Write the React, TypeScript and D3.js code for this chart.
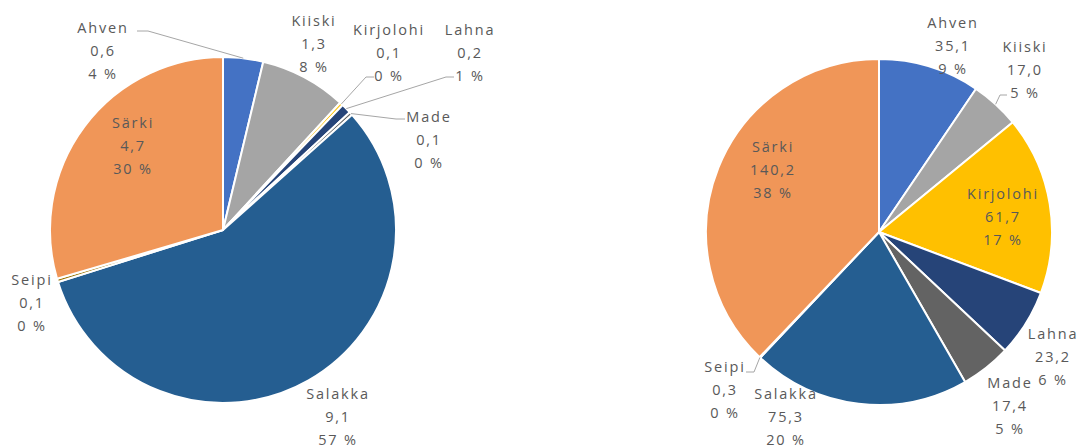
import * as d3 from "d3";

// slice order, clockwise from 12 o'clock
const species = ["Ahven", "Kiiski", "Kirjolohi", "Lahna", "Made", "Salakka", "Seipi", "Särki"];

// left pie (tiny slices are below the 0,1 shown in the rounded labels)
const leftValues = [0.6, 1.3, 0.05, 0.15, 0.05, 9.1, 0.05, 4.74];
const leftValueLabels = ["0,6", "1,3", "0,1", "0,2", "0,1", "9,1", "0,1", "4,7"];
const leftPctLabels = ["4 %", "8 %", "0 %", "1 %", "0 %", "57 %", "0 %", "30 %"];

// right pie
const rightValues = [35.1, 17.0, 61.7, 23.2, 17.4, 75.3, 0.3, 140.2];
const rightValueLabels = ["35,1", "17,0", "61,7", "23,2", "17,4", "75,3", "0,3", "140,2"];
const rightPctLabels = ["9 %", "5 %", "17 %", "6 %", "5 %", "20 %", "0 %", "38 %"];

const COLORS: Record<string, string> = {
  Ahven: "#4472C4",
  Kiiski: "#A5A5A5",
  Kirjolohi: "#FFC000",
  Lahna: "#264478",
  Made: "#636363",
  Salakka: "#255E91",
  Seipi: "#997300",
  Särki: "#F09658",
};

const W = 1083;
const H = 448;
const R = 173;
const LINE = 23;

// label placement: first line centre; leader = label-side anchor + elbow
type LabelPos = { x: number; y: number; leader?: [number, number][] };

const leftLayout: Record<string, LabelPos> = {
  Ahven: { x: 103, y: 27, leader: [[137, 31], [148, 31]] },
  Kiiski: { x: 314, y: 20 },
  Kirjolohi: { x: 389, y: 29, leader: [[374, 77], [366, 77]] },
  Lahna: { x: 470, y: 29, leader: [[454, 77], [446, 77]] },
  Made: { x: 429, y: 116, leader: [[405, 119], [396, 119]] },
  Salakka: { x: 338, y: 393 },
  Seipi: { x: 32, y: 279 },
  Särki: { x: 133, y: 122 },
};

const rightLayout: Record<string, LabelPos> = {
  Ahven: { x: 953, y: 22 },
  Kiiski: { x: 1025, y: 46, leader: [[1007, 95], [1000, 95]] },
  Kirjolohi: { x: 1003, y: 193 },
  Lahna: { x: 1053, y: 333 },
  Made: { x: 1010, y: 382 },
  Salakka: { x: 786, y: 393 },
  Seipi: { x: 725, y: 366, leader: [[746, 372], [754, 372]] },
  Särki: { x: 773, y: 146 },
};

function Pie({ cx, cy, values, valueLabels, pctLabels, layout }: {
  cx: number; cy: number; values: number[]; valueLabels: string[]; pctLabels: string[];
  layout: Record<string, LabelPos>;
}) {
  const data = species.map((name, i) => ({ name, value: values[i], i }));
  const arcs = d3.pie<typeof data[0]>().sort(null).value(d => d.value)(data);
  const arc = d3.arc<d3.PieArcDatum<typeof data[0]>>().innerRadius(0).outerRadius(R);

  return (
    <g>
      <g transform={`translate(${cx},${cy})`}>
        {arcs.map(a => (
          <path key={a.data.name} d={arc(a) ?? ""} fill={COLORS[a.data.name]}
            stroke="#fff" strokeWidth={2} strokeLinejoin="round" />
        ))}
      </g>
      {arcs.map(a => {
        const pos = layout[a.data.name];
        if (!pos.leader) return null;
        const mid = (a.startAngle + a.endAngle) / 2;
        const end: [number, number] = [cx + R * Math.sin(mid), cy - R * Math.cos(mid)];
        const pts = [...pos.leader, end];
        return (
          <polyline key={"l" + a.data.name} points={pts.map(p => p.join(",")).join(" ")}
            fill="none" stroke="#A6A6A6" strokeWidth={1} />
        );
      })}
      {arcs.map(a => {
        const pos = layout[a.data.name];
        const lines = [a.data.name, valueLabels[a.data.i], pctLabels[a.data.i]];
        return (
          <text key={"t" + a.data.name} textAnchor="middle" dominantBaseline="central"
            fill="#595959" fontSize={14.5} letterSpacing={1.8}
            fontFamily="'Open Sans', 'DejaVu Sans', sans-serif">
            {lines.map((s, k) => (
              <tspan key={k} x={pos.x} y={pos.y + k * LINE}>{s}</tspan>
            ))}
          </text>
        );
      })}
    </g>
  );
}

export default function App() {
  return (
    <svg width={W} height={H} style={{ position: "absolute", left: 0, top: 0, background: "#fff" }}>
      <Pie cx={223} cy={230} values={leftValues} valueLabels={leftValueLabels}
        pctLabels={leftPctLabels} layout={leftLayout} />
      <Pie cx={879} cy={232} values={rightValues} valueLabels={rightValueLabels}
        pctLabels={rightPctLabels} layout={rightLayout} />
    </svg>
  );
}
